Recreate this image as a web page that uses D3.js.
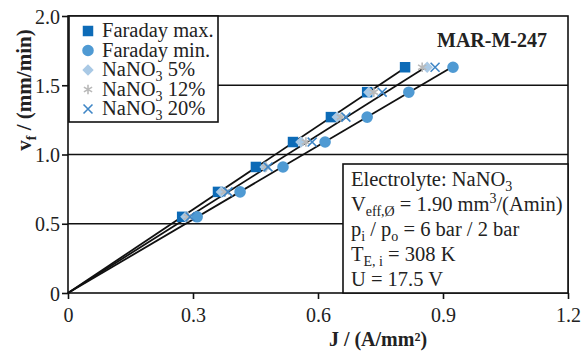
<!DOCTYPE html>
<html>
<head>
<meta charset="utf-8">
<script src="https://cdn.jsdelivr.net/npm/d3@7"></script>
<style>
  body { margin: 0; background: #fff; }
  svg text { font-family: "Liberation Serif", "DejaVu Serif", serif; fill: #222; }
</style>
</head>
<body>
<div id="chart"></div>
<script>
// feed rate levels (mm/min)
const vfLevels = [0.55, 0.73, 0.91, 1.09, 1.27, 1.45, 1.63];
// current density J (A/mm²) per series
const jFaradayMax = [0.274, 0.360, 0.451, 0.540, 0.631, 0.718, 0.809];
const jFaradayMin = [0.310, 0.413, 0.516, 0.617, 0.718, 0.818, 0.924];
const jNaNO3_5 = [0.283, 0.368, 0.473, 0.559, 0.646, 0.722, 0.862];
const jNaNO3_12 = [0.288, 0.377, 0.475, 0.571, 0.655, 0.734, 0.850];
const jNaNO3_20 = [0.293, 0.384, 0.480, 0.586, 0.667, 0.754, 0.881];
// fit lines through origin: v = k * J
const lineSlopes = [2.01, 1.90, 1.77];
const lineEndV = 1.63;
const xTicks = [0, 0.3, 0.6, 0.9, 1.2];
const yTicks = [0, 0.5, 1.0, 1.5, 2.0];
const gridValues = [0.5, 1.0, 1.5];

const W = 587, H = 352;
const m = { left: 68, right: 19, top: 16, bottom: 59 };

const svg = d3.select('#chart').append('svg')
  .attr('width', W).attr('height', H);

const x = d3.scaleLinear().domain([0, 1.2]).range([m.left, W - m.right]);
const y = d3.scaleLinear().domain([0, 2]).range([H - m.bottom, m.top]);

// custom marker shapes
const asterisk = {
  draw(ctx, size) {
    const r = Math.sqrt(size) / 2;
    for (let a = 0; a < 3; a++) {
      const t = Math.PI / 2 + a * Math.PI / 3;
      ctx.moveTo(r * Math.cos(t), r * Math.sin(t));
      ctx.lineTo(-r * Math.cos(t), -r * Math.sin(t));
    }
  }
};
const cross = {
  draw(ctx, size) {
    const r = Math.sqrt(size) / 2;
    ctx.moveTo(-r, -r); ctx.lineTo(r, r);
    ctx.moveTo(r, -r); ctx.lineTo(-r, r);
  }
};
const rhombus = {
  draw(ctx, size) {
    const r = Math.sqrt(size) * 0.62;
    ctx.moveTo(0, -r); ctx.lineTo(r, 0); ctx.lineTo(0, r); ctx.lineTo(-r, 0);
    ctx.closePath();
  }
};

const series = [
  { name: 'Faraday max.', j: jFaradayMax, type: d3.symbolSquare, size: 110, fill: '#0d6bb7' },
  { name: 'Faraday min.', j: jFaradayMin, type: d3.symbolCircle, size: 105, fill: '#4f9ad3' },
  { name: 'NaNO', sub: '3', tail: ' 5%', j: jNaNO3_5, type: rhombus, size: 85, fill: '#a9c9e5' },
  { name: 'NaNO', sub: '3', tail: ' 12%', j: jNaNO3_12, type: asterisk, size: 90, stroke: '#b9b9b9' },
  { name: 'NaNO', sub: '3', tail: ' 20%', j: jNaNO3_20, type: cross, size: 80, stroke: '#3f86c6' }
];

// gridlines
svg.append('g').selectAll('line').data(gridValues).enter().append('line')
  .attr('x1', x(0)).attr('x2', x(1.2))
  .attr('y1', d => y(d)).attr('y2', d => y(d))
  .attr('stroke', '#111').attr('stroke-width', 1.6);

// fit lines
svg.append('g').selectAll('line').data(lineSlopes).enter().append('line')
  .attr('x1', x(0)).attr('y1', y(0))
  .attr('x2', d => x(lineEndV / d)).attr('y2', y(lineEndV))
  .attr('stroke', '#111').attr('stroke-width', 1.8);

// markers
function drawMarker(sel, s) {
  const p = sel.append('path').attr('d', d3.symbol().type(s.type).size(s.size)());
  if (s.fill) p.attr('fill', s.fill);
  else p.attr('fill', 'none').attr('stroke', s.stroke).attr('stroke-width', 1.6);
  return p;
}
series.forEach(s => {
  const g = svg.append('g');
  s.j.forEach((jv, i) => {
    const mk = g.append('g').attr('transform', `translate(${x(jv)},${y(vfLevels[i])})`);
    drawMarker(mk, s);
  });
});

// frame
svg.append('rect')
  .attr('x', x(0)).attr('y', y(2))
  .attr('width', x(1.2) - x(0)).attr('height', y(0) - y(2))
  .attr('fill', 'none').attr('stroke', '#111').attr('stroke-width', 1.6);

// axes
const xAxis = svg.append('g').attr('transform', `translate(0,${y(0)})`)
  .call(d3.axisBottom(x).tickValues(xTicks).tickSize(6)
    .tickFormat(d => d === 0 ? '0' : d3.format('.1f')(d)));
const yAxis = svg.append('g').attr('transform', `translate(${x(0)},0)`)
  .call(d3.axisLeft(y).tickValues(yTicks).tickSize(6)
    .tickFormat(d => d === 0 ? '0' : d3.format('.1f')(d)));
[xAxis, yAxis].forEach(a => {
  a.select('.domain').remove();
  a.selectAll('line').attr('stroke', '#111').attr('stroke-width', 1.6);
  a.selectAll('text').attr('font-size', 20).attr('font-family', '"Liberation Serif", serif').attr('fill', '#222');
});
xAxis.selectAll('text').attr('dy', '1.0em');
yAxis.selectAll('text').attr('x', -8).attr('dy', '0.35em');

// axis titles
svg.append('text')
  .attr('x', 378).attr('y', 346)
  .attr('text-anchor', 'middle').attr('font-size', 20).attr('font-weight', 'bold')
  .text('J / (A/mm²)');

const yt = svg.append('text')
  .attr('transform', 'translate(31,90) rotate(-90)')
  .attr('text-anchor', 'middle').attr('font-size', 21).attr('font-weight', 'bold');
yt.append('tspan').text('v');
yt.append('tspan').attr('font-size', 14).attr('dy', 5).text('f');
yt.append('tspan').attr('dy', -5).text(' / (mm/min)');

// sample label
svg.append('text')
  .attr('x', 547).attr('y', 47).attr('text-anchor', 'end')
  .attr('font-size', 20).attr('font-weight', 'bold')
  .text('MAR-M-247');

// legend
const lg = svg.append('g');
lg.append('rect').attr('x', 69).attr('y', 16).attr('width', 149).attr('height', 106)
  .attr('fill', '#fff').attr('stroke', '#111').attr('stroke-width', 1.6);
series.forEach((s, i) => {
  const cy = 31 + i * 19.5;
  const mk = lg.append('g').attr('transform', `translate(88,${cy})`);
  drawMarker(mk, s);
  const t = lg.append('text').attr('x', 102).attr('y', cy + 6).attr('font-size', 20.5);
  t.append('tspan').text(s.name);
  if (s.sub) {
    t.append('tspan').attr('font-size', 14).attr('dy', 5).text(s.sub);
    t.append('tspan').attr('dy', -5).text(s.tail);
  }
});

// annotation box
const ab = svg.append('g');
ab.append('rect').attr('x', 343).attr('y', 164).attr('width', x(1.2) - 343).attr('height', y(0) - 164)
  .attr('fill', '#fff').attr('stroke', '#111').attr('stroke-width', 1.6);
const lines = [
  [['Electrolyte: NaNO'], ['3', 'sub']],
  [['V'], ['eff,Ø', 'sub'], [' = 1.90 mm'], ['3', 'sup'], ['/(Amin)']],
  [['p'], ['i', 'sub'], [' / p'], ['o', 'sub'], [' = 6 bar / 2 bar']],
  [['T'], ['E, i', 'sub'], [' = 308 K']],
  [['U = 17.5 V']]
];
lines.forEach((parts, i) => {
  const t = ab.append('text').attr('x', 351).attr('y', 186 + i * 25).attr('font-size', 20.5);
  let shift = 0;
  parts.forEach(([txt, kind]) => {
    const target = kind === 'sub' ? 5 : kind === 'sup' ? -8 : 0;
    const ts = t.append('tspan').attr('dy', target - shift).text(txt);
    if (kind) ts.attr('font-size', 14);
    shift = target;
  });
});
</script>
</body>
</html>
